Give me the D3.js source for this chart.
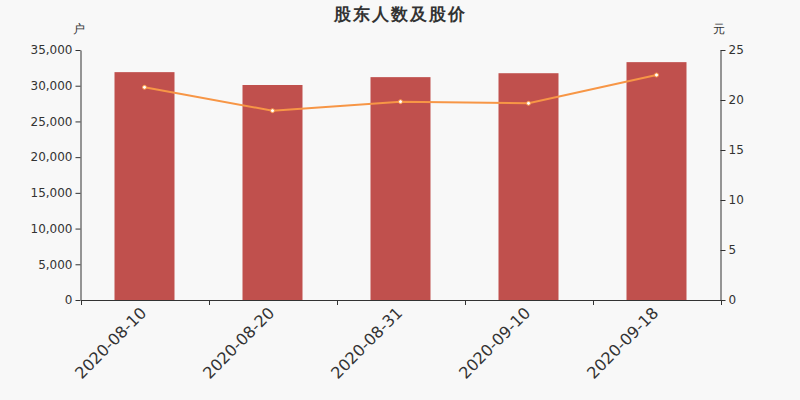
<!DOCTYPE html>
<html><head><meta charset="utf-8">
<script src="https://cdn.jsdelivr.net/npm/d3@7/dist/d3.min.js"></script>
<style>body{margin:0;background:#f8f8f8;}svg{display:block;font-family:"DejaVu Sans",sans-serif;}</style>
</head><body><svg id="c" width="800" height="400"></svg>
<script>
const categories = ["2020-08-10","2020-08-20","2020-08-31","2020-09-10","2020-09-18"];
const holders = [31900, 30100, 31200, 31750, 33300];
const prices = [21.27, 18.93, 19.83, 19.67, 22.5];
const leftTicks = [0,5000,10000,15000,20000,25000,30000,35000];
const rightTicks = [0,5,10,15,20,25];
const title = "股东人数及股价";
const leftUnit = "户", rightUnit = "元";

const svg = d3.select("#c");
svg.append("rect").attr("width",800).attr("height",400).attr("fill","#f8f8f8");
const L=80.5, R=720.5, T=50, B=300;
const x = d3.scaleBand().domain(categories).range([L,R]);
const yL = d3.scaleLinear().domain([0,35000]).range([B,T]);
const yR = d3.scaleLinear().domain([0,25]).range([B,T]);
const bw = 60;

svg.selectAll("rect.bar").data(holders).enter().append("rect")
  .attr("class","bar")
  .attr("x",(d,i)=>x(categories[i])+x.bandwidth()/2-bw/2)
  .attr("width",bw)
  .attr("y",d=>yL(d)).attr("height",d=>B-yL(d))
  .attr("fill","#c0504d");

const line = d3.line().x((d,i)=>x(categories[i])+x.bandwidth()/2).y(d=>yR(d));
svg.append("path").datum(prices).attr("d",line).attr("fill","none")
  .attr("stroke","#f79646").attr("stroke-width",2);
svg.selectAll("circle.pt").data(prices).enter().append("circle")
  .attr("cx",(d,i)=>x(categories[i])+x.bandwidth()/2).attr("cy",d=>yR(d))
  .attr("r",2).attr("fill","#fff").attr("stroke","#f79646").attr("stroke-width",1);

const fmt = d3.format(",");
const axL = svg.append("g").attr("transform",`translate(${L},0)`)
  .call(d3.axisLeft(yL).tickValues(leftTicks).tickFormat(fmt).tickSize(5).tickSizeOuter(0));
const axR = svg.append("g").attr("transform",`translate(${R},0)`)
  .call(d3.axisRight(yR).tickValues(rightTicks).tickSize(5).tickSizeOuter(0));
const axB = svg.append("g").attr("transform",`translate(0,${B})`)
  .call(d3.axisBottom(x).tickSize(0).tickFormat(""));
const bounds = categories.map(c=>x(c)).concat([R]);
axB.selectAll("line.bt").data(bounds).enter().append("line").attr("class","bt")
  .attr("x1",d=>Math.round(d)+0.5).attr("x2",d=>Math.round(d)+0.5).attr("y1",0).attr("y2",5)
  .attr("stroke","#333");
[axL,axR,axB].forEach(g=>{
  g.select(".domain").attr("stroke","#333");
  g.selectAll(".tick line").attr("stroke","#333");
  g.selectAll(".tick text").attr("fill","#333").attr("font-size",12).attr("font-family","DejaVu Sans, sans-serif");
});
axL.selectAll(".tick text").attr("x",-8);
axR.selectAll(".tick text").attr("x",8);

svg.selectAll("text.xl").data(categories).enter().append("text").attr("class","xl")
  .attr("transform",d=>`translate(${x(d)+x.bandwidth()/2-1},${B+10}) rotate(-45)`)
  .attr("text-anchor","end").attr("dy","0.35em")
  .attr("font-size",16).attr("fill","#333").text(d=>d);

svg.append("text").attr("x",400).attr("y",20).attr("text-anchor","middle")
  .attr("font-size",17).attr("font-weight","bold").attr("letter-spacing",2).attr("fill","#333").text(title);
svg.append("text").attr("x",79).attr("y",33).attr("text-anchor","middle")
  .attr("font-size",12).attr("fill","#333").text(leftUnit);
svg.append("text").attr("x",719).attr("y",33).attr("text-anchor","middle")
  .attr("font-size",12).attr("fill","#333").text(rightUnit);
</script></body></html>
